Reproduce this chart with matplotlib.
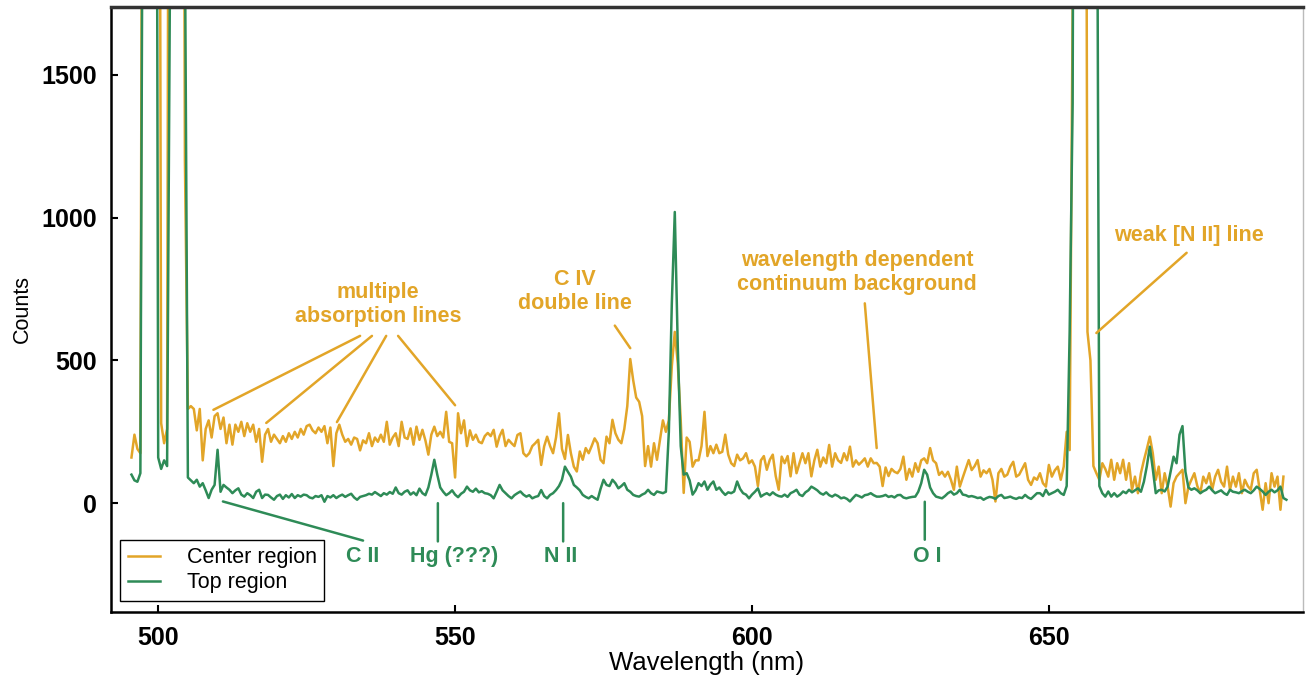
import numpy as np
import matplotlib
matplotlib.use('Agg')
import matplotlib.pyplot as plt

plt.rcParams['font.family'] = ['Liberation Sans', 'DejaVu Sans']

# spectrum sampled every 0.5 nm from 495.5 to 690.0 nm
wavelength = np.arange(495.5, 690.25, 0.5)

nan = np.nan
center_counts = [
    160, 240, 190, 175, 4000, 5000, 5000, 5000, 5000, 5000,
    280, 210, 260, 5000, 5000, 5000, 5000, 5000, 1200, 330,
    340, 330, 255, 330, 150, 260, 290, 230, 305, 315,
    260, 300, 210, 275, 205, 275, 250, 285, 235, 280,
    250, 275, 215, 260, 145, 240, 260, 215, 240, 225,
    210, 235, 215, 245, 225, 250, 230, 260, 240, 270,
    275, 255, 245, 265, 250, 270, 210, 265, 130, 245,
    275, 240, 215, 225, 205, 230, 225, 185, 220, 210,
    245, 200, 230, 215, 240, 215, 285, 205, 230, 245,
    200, 285, 230, 225, 262, 205, 268, 222, 257, 220,
    170, 240, 268, 235, 250, 230, 320, 215, 210, 90,
    315, 245, 290, 200, 255, 222, 240, 215, 210, 235,
    246, 235, 257, 198, 235, 257, 200, 222, 210, 200,
    239, 245, 175, 164, 175, 200, 210, 222, 134, 199,
    233, 200, 175, 230, 315, 190, 155, 239, 175, 128,
    111, 181, 152, 193, 175, 200, 227, 210, 152, 140,
    233, 210, 292, 245, 222, 210, 260, 340, 505, 430,
    370, 355, 305, 130, 200, 128, 210, 152, 222, 290,
    250, 290, 480, 600, 490, 290, 36, 230, 215, 128,
    150, 150, 200, 320, 165, 200, 175, 205, 175, 180,
    240, 170, 140, 130, 170, 150, 157, 175, 140, 150,
    128, 60, 150, 165, 117, 152, 170, 95, 47, 163,
    140, 165, 94, 175, 105, 140, 175, 140, 175, 94,
    150, 187, 128, 160, 140, 204, 128, 175, 150, 141,
    175, 150, 198, 128, 150, 135, 145, 157, 128, 157,
    140, 141, 128, 60, 125, 95, 120, 110, 105, 120,
    163, 82, 120, 93, 140, 110, 150, 157, 140, 193,
    150, 140, 99, 110, 93, 110, 82, 47, 128, 58,
    90, 120, 151, 116, 130, 151, 93, 115, 105, 120,
    82, 6, 105, 120, 93, 100, 128, 145, 93, 100,
    120, 140, 82, 64, 90, 82, 105, 70, 58, 134,
    93, 115, 128, 82, 128, 250, 186, 1700, 5000, 5000,
    5000, 5000, 600, 500, 130, 105, 82, 140, 120, 93,
    152, 82, 140, 105, 152, 82, 140, 47, 93, 35,
    105, 150, 190, 233, 175, 82, 128, 35, 105, 58,
    -12, 70, 93, 105, 117, 0, 58, 82, 105, 60,
    35, 93, 70, 105, 47, 93, 117, 75, 58, 128,
    47, 93, 58, 105, 35, 82, 60, 47, 105, 117,
    47, -23, 70, 0, 105, 58, 93, -23, 93, nan,
]

top_counts = [
    100, 80, 75, 105, 3000, 5000, 5000, 5000, 5000, 160,
    120, 150, 130, 1900, 5000, 5000, 5000, 5000, 2000, 90,
    80, 70, 82, 58, 70, 45, 18, 47, 64, 187,
    40, 64, 55, 47, 35, 45, 52, 30, 23, 35,
    28, 18, 40, 47, 18, 30, 29, 20, 12, 25,
    30, 15, 28, 20, 32, 18, 28, 23, 30, 28,
    20, 17, 25, 22, 28, 5, 25, 20, 28, 18,
    25, 30, 22, 28, 33, 20, 12, 22, 25, 28,
    33, 30, 39, 32, 25, 35, 30, 39, 33, 55,
    35, 30, 40, 45, 30, 38, 28, 51, 35, 28,
    55, 100, 152, 100, 55, 40, 28, 35, 45, 30,
    21, 33, 40, 58, 45, 40, 51, 38, 42, 35,
    33, 28, 17, 40, 64, 45, 35, 25, 17, 28,
    35, 41, 30, 23, 28, 17, 22, 25, 46, 25,
    17, 29, 35, 46, 60, 82, 128, 110, 93, 64,
    55, 45, 29, 22, 17, 25, 18, 12, 50, 82,
    64, 60, 82, 70, 52, 60, 70, 47, 40, 29,
    25, 23, 30, 35, 47, 35, 29, 41, 38, 35,
    40, 250, 700, 1020, 550, 200, 100, 105, 80, 30,
    45, 70, 60, 76, 47, 65, 76, 47, 55, 40,
    29, 38, 35, 41, 76, 50, 35, 30, 17, 30,
    40, 52, 23, 30, 35, 28, 38, 30, 25, 23,
    30, 22, 35, 40, 47, 30, 25, 38, 45, 58,
    52, 45, 35, 30, 38, 28, 23, 30, 25, 17,
    20, 15, 6, 18, 29, 25, 20, 28, 30, 35,
    28, 23, 23, 25, 29, 22, 25, 20, 28, 29,
    20, 17, 20, 22, 23, 40, 70, 117, 100, 55,
    35, 23, 20, 17, 25, 35, 41, 30, 35, 47,
    30, 28, 23, 25, 22, 18, 20, 12, 18, 22,
    20, 15, 25, 29, 18, 20, 23, 18, 15, 20,
    18, 29, 20, 15, 25, 35, 35, 25, 47, 30,
    35, 40, 47, 35, 29, 60, 600, 1400, 5000, 5000,
    5000, 5000, 5000, 5000, 5000, 3000, 60, 35, 23, 41,
    23, 35, 23, 30, 41, 35, 47, 38, 45, 52,
    40, 75, 130, 198, 120, 35, 45, 47, 41, 58,
    110, 163, 140, 240, 270, 110, 55, 47, 52, 45,
    35, 42, 47, 58, 45, 35, 40, 45, 35, 29,
    47, 40, 38, 35, 42, 47, 40, 35, 45, 58,
    50, 41, 29, 40, 47, 38, 45, 58, 18, 12,
]

orange = '#E2A528'
green = '#2E8B57'

fig = plt.figure(figsize=(13.13, 6.77), dpi=100)
ax = fig.add_axes([0.0843, 0.0965, 0.9081, 0.8936])

ax.plot(wavelength, center_counts, color=orange, lw=1.8, label='Center region')
ax.plot(wavelength, top_counts, color=green, lw=1.8, label='Top region')

ax.set_xlim(492.0, 692.8)
ax.set_ylim(-380, 1739)
ax.set_xticks([500, 550, 600, 650])
ax.set_yticks([0, 500, 1000, 1500])
ax.tick_params(direction='in', length=5, width=1.5, labelsize=18, pad=10)
for lab in ax.get_xticklabels() + ax.get_yticklabels():
    lab.set_fontweight('bold')

ax.spines['left'].set_linewidth(1.8)
ax.spines['bottom'].set_linewidth(1.8)
ax.spines['top'].set_linewidth(2.5)
ax.spines['top'].set_color('#333333')
ax.spines['right'].set_linewidth(1.0)
ax.spines['right'].set_color('#bbbbbb')

ax.set_xlabel('Wavelength (nm)', fontsize=18.5, labelpad=1)
ax.set_ylabel('Counts', fontsize=15.5, labelpad=6)

leg = ax.legend(loc='lower left', bbox_to_anchor=(0.0078, 0.0177), borderaxespad=0,
                fontsize=15.5, frameon=True, fancybox=False, framealpha=1,
                labelspacing=0.2, borderpad=0.35, handlelength=1.5, handletextpad=1.25)
leg.get_frame().set_edgecolor('black')
leg.get_frame().set_linewidth(1.0)

def pointer(x0, y0, x1, y1, color):
    ax.annotate('', xy=(x1, y1), xytext=(x0, y0),
                arrowprops=dict(arrowstyle='-', color=color, lw=1.8, shrinkA=0, shrinkB=0))

txt = dict(fontsize=15.5, fontweight='bold', ha='center', va='center', linespacing=1.2)

# orange annotations
ax.text(537.0, 696, 'multiple\nabsorption lines', color=orange, **txt)
pointer(534.0, 586, 509.3, 327, orange)
pointer(536.0, 586, 518.2, 281, orange)
pointer(538.4, 586, 530.1, 284, orange)
pointer(540.4, 586, 550.0, 343, orange)

ax.text(570.2, 742, 'C IV\ndouble line', color=orange, **txt)
pointer(576.9, 622, 579.5, 543, orange)

ax.text(617.7, 808, 'wavelength dependent\ncontinuum background', color=orange, **txt)
pointer(619.0, 700, 621.0, 193, orange)

ax.text(673.6, 936, 'weak [N II] line', color=orange, **txt)
pointer(673.2, 877, 658.0, 596, orange)

# green annotations
ax.text(534.5, -188, 'C II', color=green, **txt)
pointer(510.9, 6, 534.5, -131, green)

ax.text(549.8, -188, 'Hg (???)', color=green, **txt)
pointer(547.1, 0, 547.1, -134, green)

ax.text(567.8, -188, 'N II', color=green, **txt)
pointer(568.2, 0, 568.2, -134, green)

ax.text(629.6, -188, 'O I', color=green, **txt)
pointer(629.1, 5, 629.1, -128, green)

fig.savefig('out.png', dpi=100)
